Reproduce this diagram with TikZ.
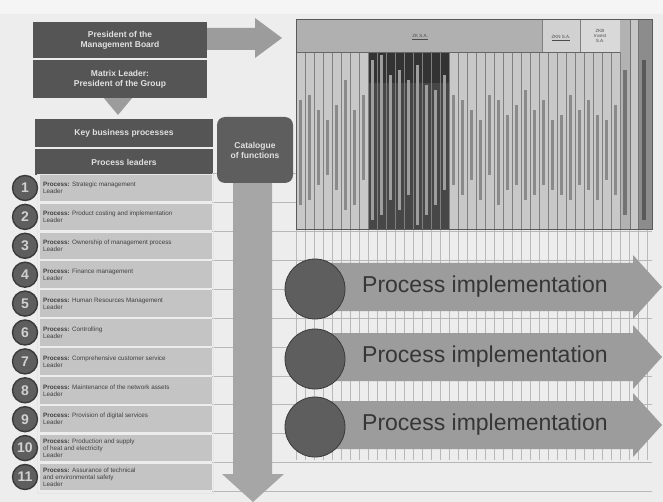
\documentclass[tikz,border=0pt]{standalone}
\usepackage{fontspec}
\setmainfont{Liberation Sans}
\definecolor{bg}{HTML}{EDEDED}
\definecolor{darkbox}{HTML}{555555}
\definecolor{arrowgray}{HTML}{9C9C9C}
\definecolor{rowfill}{HTML}{C4C4C4}
\definecolor{circfill}{HTML}{5E5E5E}
\definecolor{circline}{HTML}{3A3A3A}
\definecolor{tabhead}{HTML}{B0B0B0}
\definecolor{tabbody}{HTML}{C8C8C8}
\definecolor{tabdark}{HTML}{474747}
\definecolor{gridline}{HTML}{B8B8B8}
\definecolor{streak}{HTML}{8A8A8A}
\definecolor{bigarrow}{HTML}{A6A6A6}
\definecolor{pitext}{HTML}{363636}
\begin{document}
\begin{tikzpicture}[x=1pt,y=-1pt,
  topbox/.style={fill=darkbox,text=white!88!black,align=center,inner sep=0pt,
     font=\bfseries\fontsize{8.5}{10}\selectfont},
  numcirc/.style={circle,fill=circfill,draw=circline,line width=1.4pt,minimum size=25pt,inner sep=0pt,
     text=white!82!black,font=\bfseries\fontsize{14}{14}\selectfont},
  rowtext/.style={anchor=west,align=left,inner sep=0pt,text=black!75,font=\fontsize{6.3}{7}\selectfont},
  picirc/.style={circle,fill=circfill,draw=circline,line width=0.8pt,minimum size=60pt,inner sep=0pt},
  pitxt/.style={anchor=west,inner sep=0pt,text=pitext,font=\fontsize{23}{24}\selectfont},
  headtxt/.style={inner sep=0pt,align=center,text=black!70,font=\fontsize{4.5}{5}\selectfont}]
\fill[bg] (0,0) rectangle (663,502);
\fill[white!96!black] (0,0) rectangle (663,14);
\useasboundingbox (0,0) rectangle (663,502);

% ---------- top-left boxes and arrows
\fill[arrowgray] (205,28) -- (255,28) -- (255,18) -- (282,38) -- (255,58) -- (255,50) -- (205,50) -- cycle;
\fill[arrowgray] (103,97) -- (133,97) -- (118,115) -- cycle;
\node[topbox,minimum width=174pt,minimum height=36pt] (pres) at (120,40) {President of the\\Management Board};
\node[topbox,minimum width=174pt,minimum height=38pt] (matrix) at (120,79) {Matrix Leader:\\President of the Group};
\node[topbox,minimum width=178pt,minimum height=28pt] (kbp) at (124,133) {Key business processes};
\node[topbox,minimum width=178pt,minimum height=26pt] (pl) at (124,162) {Process leaders};

% ---------- grid behind (right side)
\foreach \k in {0,...,39} {
  \draw[gridline,line width=0.5pt] (296+9*\k,230) -- (296+9*\k,460);
}
\foreach \i in {0,...,11} {
  \draw[gridline,line width=0.6pt] (212,173.5+28.9*\i) -- (652,173.5+28.9*\i);
}

% ---------- big down arrow and catalogue
\fill[bigarrow] (233,180) -- (272,180) -- (272,474) -- (284,474) -- (253,502) -- (222,474) -- (233,474) -- cycle;
\node[topbox,fill=circfill,rounded corners=8pt,minimum width=76pt,minimum height=66pt] (cat) at (255,150) {Catalogue\\of functions};

% ---------- left process rows
\draw[white!90!black,line width=0.8pt] (37,174) rectangle (213,493);
\foreach \i/\t in {1/{\textbf{Process:} Strategic management\\Leader},
                  2/{\textbf{Process:} Product costing and implementation\\Leader},
                  3/{\textbf{Process:} Ownership of management process\\Leader},
                  4/{\textbf{Process:} Finance management\\Leader},
                  5/{\textbf{Process:} Human Resources Management\\Leader},
                  6/{\textbf{Process:} Controlling\\Leader},
                  7/{\textbf{Process:} Comprehensive customer service\\Leader},
                  8/{\textbf{Process:} Maintenance of the network assets\\Leader},
                  9/{\textbf{Process:} Provision of digital services\\Leader},
                  10/{\textbf{Process:} Production and supply\\of heat and electricity\\Leader},
                  11/{\textbf{Process:} Assurance of technical\\and environmental safety\\Leader}} {
  \pgfmathsetmacro{\yc}{188+(\i-1)*28.9}
  \fill[rowfill] (40,\yc-13.2) rectangle (212,\yc+13.2);
  \node[rowtext] (rt\i) at (43,\yc) {\t};
  \node[numcirc] (n\i) at (25,\yc) {\i};
}

% ---------- table of functions
\fill[tabbody] (296,52) rectangle (620,230);
\fill[tabdark] (368,52) rectangle (449,230);
\fill[black!80] (368,52) rectangle (449,83);
\fill[tabhead] (296,20) rectangle (542,52);
\fill[white!82!black] (542,20) rectangle (580,52);
\fill[white!85!black] (580,20) rectangle (620,52);
\fill[black!30] (620,20) rectangle (630,230);
\fill[black!22] (630,20) rectangle (638,230);
\fill[black!45] (638,20) rectangle (652,230);
\foreach \k/\s/\e in {0/100/205,1/95/200,2/110/185,3/120/175,4/105/190,5/80/210,6/110/205,7/95/180,
   8/60/220,9/55/215,10/75/200,11/70/210,12/80/195,13/65/225,14/85/215,15/90/205,16/75/190,
   17/95/185,18/100/195,19/110/180,20/120/200,21/95/175,22/100/205,23/115/190,24/105/185,
   25/90/200,26/110/195,27/100/185,28/120/190,29/115/195,30/95/200,31/110/185,32/100/190,
   33/115/200,34/120/180,35/105/195} {
  \ifnum\k<8 \def\sc{streak}\else\ifnum\k>16 \def\sc{streak}\else\def\sc{black!38}\fi\fi
  \fill[\sc] (296+9*\k+3.2,\s) rectangle (296+9*\k+5.8,\e);
}
\fill[black!65] (642,60) rectangle (646,220);
\fill[black!55] (623,70) rectangle (627,215);
\foreach \k in {1,...,36} {
  \draw[black!50,line width=0.5pt] (296+9*\k,52) -- (296+9*\k,230);
}
\draw[black!55,line width=0.5pt] (630,20) -- (630,230) (638,20) -- (638,230);
\draw[black!60,line width=0.8pt] (296,52) -- (620,52);
\draw[black!50,line width=0.5pt] (542,20) -- (542,52) (580,20) -- (580,52);
\draw[black!65,line width=1pt] (296,20) rectangle (652,230);
\node[headtxt] (h1) at (420,37) {\underline{ZK S.A.}};
\node[headtxt] (h2) at (561,38) {\underline{ZKN S.A.}};
\node[headtxt] (h3) at (600,36) {ZKB\\Invest\\S.A.};

% ---------- process implementation arrows
\foreach \j/\c in {1/287,2/357,3/425} {
  \fill[arrowgray] (330,\c-24) -- (633,\c-24) -- (633,\c-32) -- (662,\c) -- (633,\c+32) -- (633,\c+24) -- (330,\c+24) -- cycle;
  \node[picirc] (pc\j) at (315,\c+2) {};
  \node[pitxt] (pt\j) at (362,\c) {Process implementation};
}
\end{tikzpicture}
\end{document}
